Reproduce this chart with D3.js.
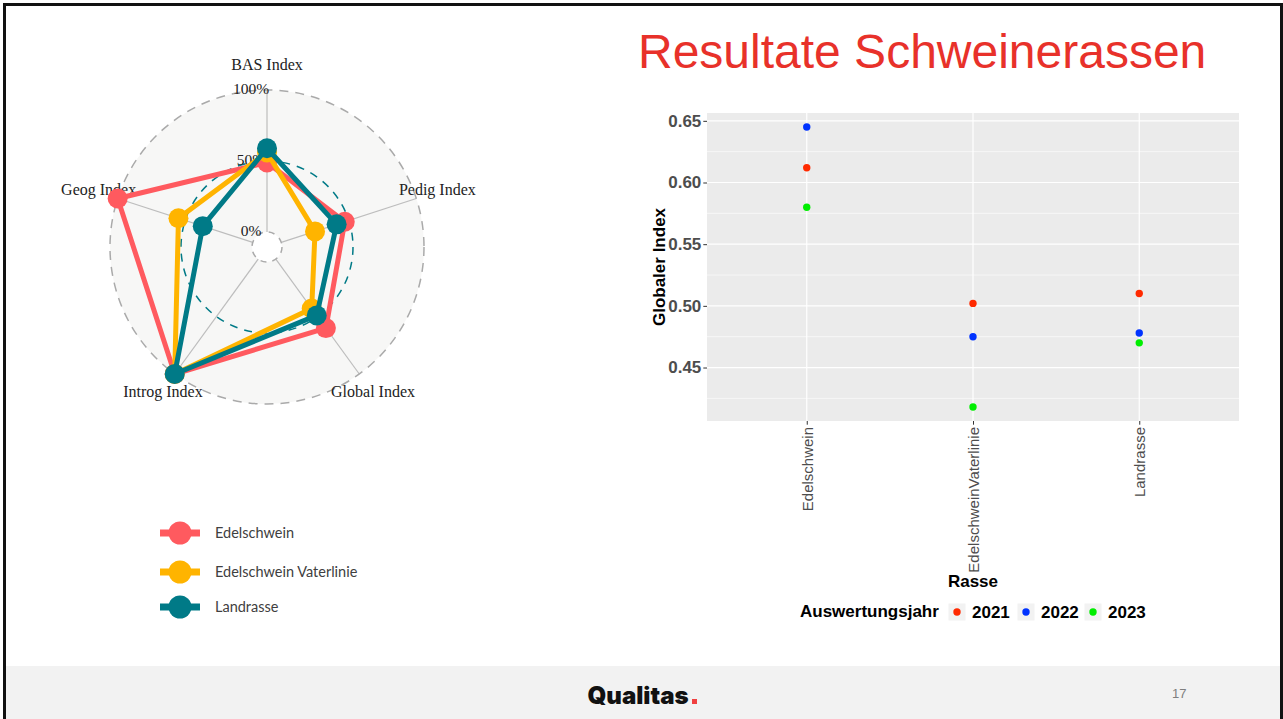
<!DOCTYPE html>
<html>
<head>
<meta charset="utf-8">
<script src="https://cdn.jsdelivr.net/npm/d3@7"></script>
<style>
  html, body { margin: 0; padding: 0; background: #fff; }
  svg { display: block; }
</style>
</head>
<body>
<svg id="chart" width="1283" height="719"></svg>
<script>
// ---------------- DATA ----------------
const radarAxes = ["BAS Index", "Pedig Index", "Global Index", "Introg Index", "Geog Index"];
const radarSeries = ["Edelschwein", "Edelschwein Vaterlinie", "Landrasse"];
const edelschweinValues = [0.49, 0.47, 0.60, 1.00, 1.00];
const vaterlinieValues = [0.56, 0.25, 0.43, 1.00, 0.55];
const landrasseValues = [0.59, 0.41, 0.49, 1.00, 0.37];
const radarTickValues = [0, 0.5, 1];
const radarTickLabels = ["0%", "50%", "100%"];
const radarColors = ["#FF5A5F", "#FFB400", "#007A87"];

const breeds = ["Edelschwein", "EdelschweinVaterlinie", "Landrasse"];
const years = ["2021", "2022", "2023"];
const values2021 = [0.612, 0.502, 0.510];
const values2022 = [0.645, 0.475, 0.478];
const values2023 = [0.580, 0.418, 0.470];
const yTickValues = [0.45, 0.50, 0.55, 0.60, 0.65];
const yMinorValues = [0.425, 0.475, 0.525, 0.575, 0.625];
const yearColors = ["#FF2A00", "#0033FF", "#00EE00"];

// ---------------- PAGE ----------------
const svg = d3.select("#chart");
svg.append("rect").attr("width", 1283).attr("height", 719).attr("fill", "#fff");

// footer band
svg.append("rect").attr("x", 6).attr("y", 666).attr("width", 1274).attr("height", 53).attr("fill", "#F2F2F2");
svg.append("text").attr("x", 638).attr("y", 704).attr("text-anchor", "middle")
  .style("font-family", "Inter, 'DejaVu Sans', sans-serif").style("font-weight", 900)
  .style("font-size", "24px").attr("fill", "#111").text("Qualitas");
svg.append("rect").attr("x", 692).attr("y", 699).attr("width", 5).attr("height", 5).attr("fill", "#F04040");
svg.append("text").attr("x", 1172).attr("y", 698)
  .style("font-family", "'Liberation Sans', Arial, sans-serif").style("font-size", "13px")
  .attr("fill", "#7F7F7F").text("17");

// border
svg.append("path").attr("d", "M4.5,719 L4.5,4.5 L1281.5,4.5 L1281.5,719")
  .attr("fill", "none").attr("stroke", "#111").attr("stroke-width", 3);

// title
svg.append("text").attr("x", 638).attr("y", 68)
  .style("font-family", "'Liberation Sans', Arial, sans-serif").style("font-size", "48px")
  .attr("fill", "#E8312A").text("Resultate Schweinerassen");

// ---------------- RADAR ----------------
const cx = 267, cy = 247, R = 157, r0 = 15;
const rScale = d3.scaleLinear().domain([0, 1]).range([r0, R]);
const angle = d3.scaleLinear().domain([0, radarAxes.length]).range([0, 2 * Math.PI]);
const pt = (i, v) => {
  const a = angle(i), r = rScale(v);
  return [cx + r * Math.sin(a), cy - r * Math.cos(a)];
};
const radar = svg.append("g");

radar.append("circle").attr("cx", cx).attr("cy", cy).attr("r", R).attr("fill", "#F7F7F6");
radar.append("circle").attr("cx", cx).attr("cy", cy).attr("r", r0).attr("fill", "#fff");

// axis lines
radarAxes.forEach((name, i) => {
  const [x1, y1] = pt(i, 0), [x2, y2] = pt(i, 1);
  radar.append("line").attr("x1", x1).attr("y1", y1).attr("x2", x2).attr("y2", y2)
    .attr("stroke", "#BDBDBD").attr("stroke-width", 1.2);
});

// grid circles
radarTickValues.forEach((v, k) => {
  const mid = k === 1;
  radar.append("circle").attr("cx", cx).attr("cy", cy).attr("r", rScale(v))
    .attr("fill", "none")
    .attr("stroke", mid ? "#007A87" : "#AAAAAA")
    .attr("stroke-width", mid ? 1.5 : 1.5)
    .attr("stroke-dasharray", mid ? "8,7" : (v === 0 ? "6,6" : "9,7"));
});

// tick labels
radarTickValues.forEach((v, k) => {
  radar.append("text").attr("x", cx - 16).attr("y", cy - rScale(v) + 4)
    .attr("text-anchor", "middle")
    .style("font-family", "'Liberation Serif', 'Times New Roman', serif").style("font-size", "15.5px")
    .attr("fill", "#222").text(radarTickLabels[k]);
});

// axis labels
radarAxes.forEach((name, i) => {
  const a = angle(i), lr = R + 20;
  const x = cx + lr * Math.sin(a), y = cy - lr * Math.cos(a) + 4 - 4 * Math.cos(a);
  radar.append("text").attr("x", x + (Math.sin(a) > 0.5 ? 2 : 0)).attr("y", y).attr("text-anchor", "middle")
    .style("font-family", "'Liberation Serif', 'Times New Roman', serif").style("font-size", "16px")
    .attr("fill", "#222").text(name);
});

// series
const seriesValues = [edelschweinValues, vaterlinieValues, landrasseValues];
const lineGen = d3.line().curve(d3.curveLinearClosed);
seriesValues.forEach((vals, s) => {
  const pts = vals.map((v, i) => pt(i, v));
  radar.append("path").attr("d", lineGen(pts)).attr("fill", "none")
    .attr("stroke", radarColors[s]).attr("stroke-width", 5).attr("stroke-linejoin", "round");
  radar.selectAll(null).data(pts).enter().append("circle")
    .attr("cx", d => d[0]).attr("cy", d => d[1]).attr("r", 10).attr("fill", radarColors[s]);
});

// radar legend
const legYs = [533, 572, 607];
radarSeries.forEach((name, s) => {
  const y = legYs[s];
  svg.append("line").attr("x1", 160).attr("x2", 200).attr("y1", y).attr("y2", y)
    .attr("stroke", radarColors[s]).attr("stroke-width", 7);
  svg.append("circle").attr("cx", 180).attr("cy", y).attr("r", 11.5).attr("fill", radarColors[s]);
  svg.append("text").attr("x", 215).attr("y", y + 5)
    .style("font-family", "Lato, 'Open Sans', sans-serif").style("font-size", "14.5px")
    .attr("fill", "#404040").text(name);
});

// ---------------- DOT PLOT ----------------
const px0 = 707, px1 = 1239, py0 = 113, py1 = 421;
const allVals = values2021.concat(values2022, values2023);
const vmin = d3.min(allVals), vmax = d3.max(allVals), pad = (vmax - vmin) * 0.05;
const y = d3.scaleLinear().domain([vmin - pad, vmax + pad]).range([py1, py0]);
const x = d3.scalePoint().domain(breeds).range([px0, px1]).padding(0.6);
const plot = svg.append("g");

plot.append("rect").attr("x", px0).attr("y", py0).attr("width", px1 - px0).attr("height", py1 - py0)
  .attr("fill", "#EBEBEB");
yMinorValues.forEach(v => {
  plot.append("line").attr("x1", px0).attr("x2", px1).attr("y1", y(v)).attr("y2", y(v))
    .attr("stroke", "#fff").attr("stroke-width", 0.6);
});
yTickValues.forEach(v => {
  plot.append("line").attr("x1", px0).attr("x2", px1).attr("y1", y(v)).attr("y2", y(v))
    .attr("stroke", "#fff").attr("stroke-width", 1.2);
});
breeds.forEach(b => {
  plot.append("line").attr("x1", x(b)).attr("x2", x(b)).attr("y1", py0).attr("y2", py1)
    .attr("stroke", "#fff").attr("stroke-width", 1.2);
});

// y axis
const yAxis = d3.axisLeft(y).tickValues(yTickValues).tickFormat(d3.format(".2f")).tickSize(3.7).tickPadding(2);
const yg = plot.append("g").attr("transform", `translate(${px0},0)`).call(yAxis);
yg.select(".domain").remove();
yg.selectAll(".tick line").attr("stroke", "#333");
yg.selectAll(".tick text").attr("fill", "#4D4D4D")
  .style("font-family", "'Liberation Sans', Arial, sans-serif").style("font-size", "17px").style("font-weight", "bold");

// x axis
const xAxis = d3.axisBottom(x).tickSize(3.7).tickPadding(3);
const xg = plot.append("g").attr("transform", `translate(0,${py1})`).call(xAxis);
xg.select(".domain").remove();
xg.selectAll(".tick line").attr("stroke", "#333");
xg.selectAll(".tick text").attr("fill", "#4D4D4D")
  .style("font-family", "'Liberation Sans', Arial, sans-serif").style("font-size", "15px")
  .attr("transform", "rotate(-90)").attr("text-anchor", "end")
  .attr("x", -6).attr("y", 0).attr("dy", "0.35em");

// points
const yearValues = [values2021, values2022, values2023];
yearValues.forEach((vals, k) => {
  plot.selectAll(null).data(vals).enter().append("circle")
    .attr("cx", (d, i) => x(breeds[i])).attr("cy", d => y(d)).attr("r", 3.7)
    .attr("fill", yearColors[k]);
});

// axis titles
plot.append("text").attr("transform", `translate(665,${(py0 + py1) / 2}) rotate(-90)`)
  .attr("text-anchor", "middle")
  .style("font-family", "'Liberation Sans', Arial, sans-serif").style("font-size", "17px").style("font-weight", "bold")
  .attr("fill", "#000").text("Globaler Index");
plot.append("text").attr("x", (px0 + px1) / 2).attr("y", 587).attr("text-anchor", "middle")
  .style("font-family", "'Liberation Sans', Arial, sans-serif").style("font-size", "17px").style("font-weight", "bold")
  .attr("fill", "#000").text("Rasse");

// legend
const leg = svg.append("g");
leg.append("text").attr("x", 800).attr("y", 617)
  .style("font-family", "'Liberation Sans', Arial, sans-serif").style("font-size", "17px").style("font-weight", "bold")
  .attr("fill", "#000").text("Auswertungsjahr");
const keyX = [957, 1026, 1093];
years.forEach((yr, k) => {
  leg.append("rect").attr("x", keyX[k] - 8.5).attr("y", 603.5).attr("width", 17).attr("height", 17).attr("fill", "#F2F2F2");
  leg.append("circle").attr("cx", keyX[k]).attr("cy", 612).attr("r", 3.7).attr("fill", yearColors[k]);
  leg.append("text").attr("x", keyX[k] + 15).attr("y", 618)
    .style("font-family", "'Liberation Sans', Arial, sans-serif").style("font-size", "17px").style("font-weight", "bold")
    .attr("fill", "#000").text(yr);
});
</script>
</body>
</html>
